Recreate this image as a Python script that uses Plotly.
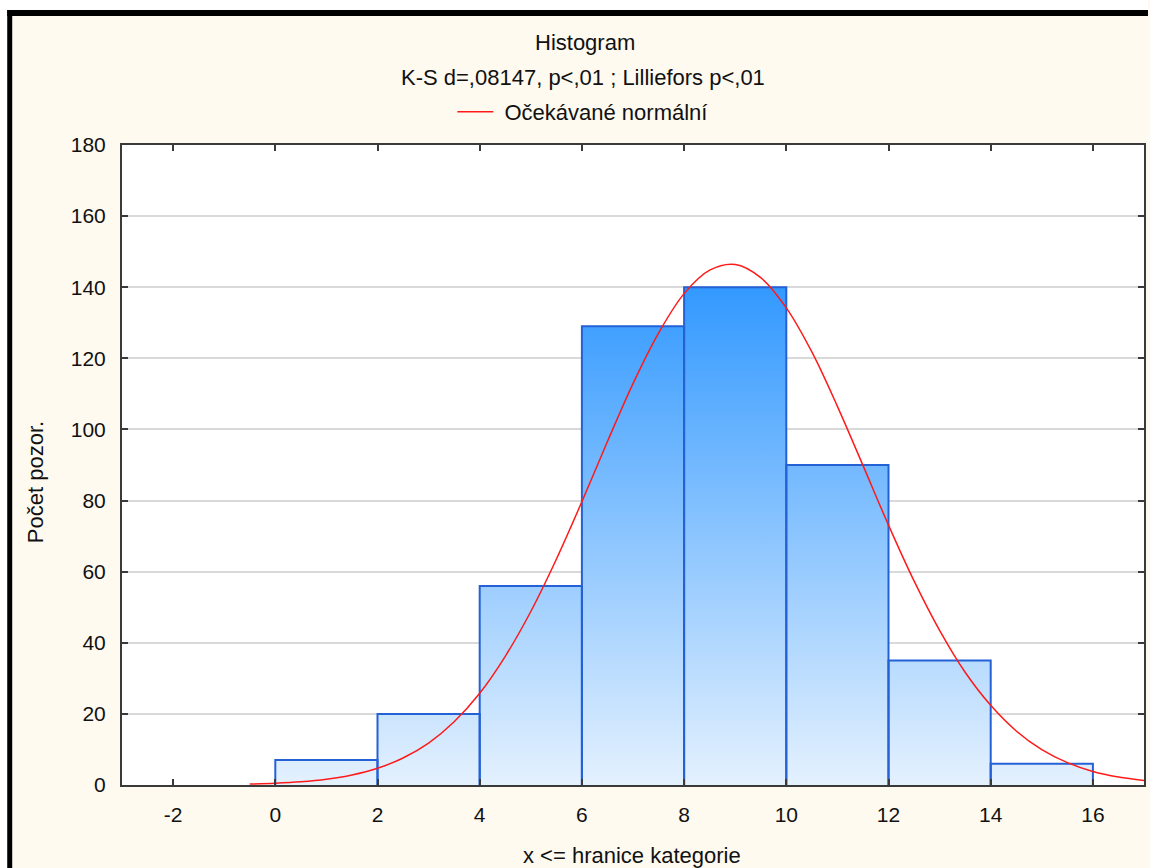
import plotly.graph_objects as go

# ---- data ----
bin_edges = [0, 2, 4, 6, 8, 10, 12, 14, 16]
counts = [7, 20, 56, 129, 140, 90, 35, 6]

curve_x = [-0.5, 0, 0.5, 1, 1.5, 2, 2.5, 3, 3.5, 4, 4.5, 5, 5.5, 6, 6.5, 7, 7.5, 8,
           8.5, 9, 9.5, 10, 10.5, 11, 11.5, 12, 12.5, 13, 13.5, 14, 14.5, 15, 15.5,
           16, 16.5, 17]
curve_y = [0.25, 0.48, 0.89, 1.6, 2.8, 4.7, 7.6, 11.8, 17.8, 25.8, 36.2, 48.8, 63.5,
           79.7, 96.6, 112.9, 127.1, 138.2, 144.8, 146.4, 142.7, 134.2, 121.8, 106.5,
           89.9, 73.1, 57.4, 43.5, 31.7, 22.4, 15.2, 9.95, 6.3, 3.8, 2.25, 1.3]

x_ticks = [-2, 0, 2, 4, 6, 8, 10, 12, 14, 16]
x_tick_labels = ["-2", "0", "2", "4", "6", "8", "10", "12", "14", "16"]
y_ticks = [0, 20, 40, 60, 80, 100, 120, 140, 160, 180]

title_text = "Histogram"
subtitle_text = "K-S d=,08147, p<,01 ; Lilliefors p<,01"
legend_text = "Očekávané normální"
x_title = "x <= hranice kategorie"
y_title = "Počet pozor."

FONT = "Liberation Sans, Arial, sans-serif"
CREAM = "#FEFAF0"
BAR_LINE = "#2461D6"

W, H = 1150, 868
# plot area in screen pixels
L, R, T, B = 122, 1146, 145, 785


def px(xp):
    return (xp - L) / (R - L)


def py(yp):
    return (B - yp) / (B - T)


fig = go.Figure()

# gradient fill of histogram (step shape)
fig.add_trace(go.Scatter(
    x=bin_edges, y=counts + [counts[-1]], mode="lines", line_shape="hv",
    line=dict(width=0, color="rgba(0,0,0,0)"), fill="tozeroy",
    fillgradient=dict(type="vertical", start=0, stop=140,
                      colorscale=[[0, "#E4F1FE"], [1, "#3399FF"]]),
    showlegend=False, hoverinfo="skip"))

# bar outlines
ox, oy = [], []
for i, c in enumerate(counts):
    x0, x1 = bin_edges[i], bin_edges[i + 1]
    ox += [x0, x0, x1, x1, None]
    oy += [0, c, c, 0, None]
fig.add_trace(go.Scatter(x=ox, y=oy, mode="lines",
                         line=dict(color=BAR_LINE, width=2),
                         showlegend=False, hoverinfo="skip"))

# expected normal curve
fig.add_trace(go.Scatter(x=curve_x, y=curve_y, mode="lines",
                         name="\u00a0" + legend_text,
                         line=dict(color="#FF1A1A", width=1.5, shape="spline"),
                         showlegend=True))

axis_common = dict(showline=True, linecolor="#3A3A3A", linewidth=2, mirror="ticks",
                   ticks="inside", ticklen=6, tickwidth=2, tickcolor="#3A3A3A",
                   tickfont=dict(family=FONT, size=21, color="#111111"),
                   zeroline=False)

fig.update_xaxes(range=[-3, 17], tickvals=x_ticks, ticktext=x_tick_labels,
                 showgrid=False, ticklabelstandoff=10, **axis_common)
fig.update_yaxes(range=[0, 180], tickvals=y_ticks, showgrid=True,
                 gridcolor="#D9D9D9", gridwidth=1.5, ticklabelstandoff=10,
                 **axis_common)

annotations = [
    dict(text=title_text, x=px(586), y=py(43)),
    dict(text=subtitle_text, x=px(584), y=py(78)),
    dict(text=x_title, x=px(633), y=py(855)),
    dict(text=y_title, x=px(35), y=py(482), textangle=-90),
]
for a in annotations:
    a.update(xref="paper", yref="paper", showarrow=False, xanchor="center",
             yanchor="middle", font=dict(family=FONT, size=22, color="#111111"))

shapes = [
    # white strip above / left of the black frame
    dict(type="rect", x0=px(0), x1=px(W), y0=py(0), y1=py(10), fillcolor="white", line_width=0),
    dict(type="rect", x0=px(0), x1=px(7), y0=py(0), y1=py(H), fillcolor="white", line_width=0),
    # black frame
    dict(type="rect", x0=px(7), x1=px(W), y0=py(10), y1=py(16), fillcolor="black", line_width=0),
    dict(type="rect", x0=px(7), x1=px(12), y0=py(10), y1=py(H), fillcolor="black", line_width=0),
]
for s in shapes:
    s.update(xref="paper", yref="paper", layer="above")

fig.update_layout(
    width=W, height=H,
    margin=dict(l=L, r=W - R, t=T, b=H - B, pad=0),
    paper_bgcolor=CREAM, plot_bgcolor="white",
    annotations=annotations, shapes=shapes,
    showlegend=True,
    legend=dict(orientation="h", x=px(453), y=py(112), xanchor="left", yanchor="middle",
                itemwidth=36,
                bgcolor="rgba(0,0,0,0)", font=dict(family=FONT, size=22, color="#111111")),
)

fig.write_html(
    "out.html",
    config={"displayModeBar": False},
    post_script="document.body.style.margin='0';document.body.style.overflow='hidden';",
)
